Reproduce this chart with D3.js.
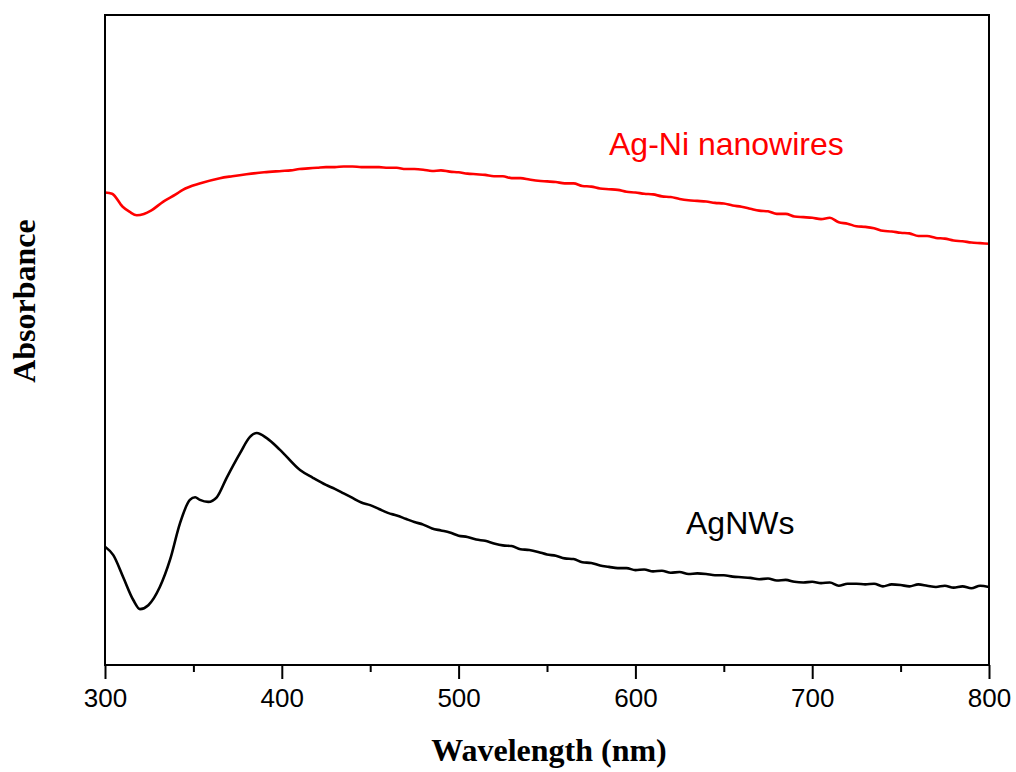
<!DOCTYPE html>
<html>
<head>
<meta charset="utf-8">
<script src="https://cdn.jsdelivr.net/npm/d3@7"></script>
<style>
  html, body { margin: 0; padding: 0; background: #fff; }
  svg { display: block; }
</style>
</head>
<body>
<script>
// ---- Data ----
const agnwsWavelength = [300, 304.7, 310.3, 316, 319.8, 324.5, 331, 336.8, 342.4, 348, 351, 353.7, 358.4, 363.2, 368.8, 376.4, 382, 385.8, 391.5, 399, 410.3, 417.6, 425,
  430, 435, 440, 445, 450, 455, 460, 465, 470, 475, 480, 485, 490, 495, 500, 505, 510, 515, 520, 525, 530, 535, 540, 545, 550, 555, 560, 565, 570, 575, 580, 585, 590, 595,
  600, 605, 610, 615, 620, 625, 630, 635, 640, 645, 650, 655, 660, 665, 670, 675, 680, 685, 690, 695, 700, 705, 710, 715, 720, 725, 730, 735, 740, 745, 750, 755, 760, 765, 770, 775, 780, 785, 790, 795, 800];
const agnwsAbs = [0.182, 0.169, 0.135, 0.100, 0.086, 0.092, 0.120, 0.162, 0.218, 0.254, 0.258, 0.254, 0.251, 0.258, 0.288, 0.326, 0.351, 0.357, 0.349, 0.331, 0.300, 0.288, 0.277,
  0.271, 0.264, 0.257, 0.250, 0.246, 0.240, 0.234, 0.230, 0.225, 0.220, 0.216, 0.210, 0.207, 0.204, 0.199, 0.197, 0.193, 0.191, 0.187, 0.184, 0.183, 0.178, 0.177, 0.174, 0.170, 0.168, 0.164, 0.163, 0.158, 0.157, 0.153, 0.151, 0.149, 0.149,
  0.146, 0.147, 0.144, 0.145, 0.142, 0.143, 0.140, 0.141, 0.140, 0.138, 0.138, 0.136, 0.135, 0.134, 0.132, 0.133, 0.130, 0.131, 0.128, 0.127, 0.128, 0.126, 0.127, 0.122, 0.125, 0.125, 0.124, 0.125, 0.121, 0.124, 0.123, 0.121, 0.124, 0.122, 0.120, 0.122, 0.119, 0.121, 0.118, 0.122, 0.120];

const agniWavelength = [300, 304, 310, 314, 318, 322, 326, 333, 340, 344, 354, 365, 372, 380, 390,
  400, 405, 410, 415, 420, 425, 430, 435, 440, 445, 450, 455, 460, 465, 470, 475, 480, 485, 490, 495, 500, 505, 510, 515, 520, 525, 530, 535, 540, 545, 550, 555, 560, 565, 570, 575, 580, 585, 590, 595,
  600, 605, 610, 615, 620, 625, 630, 635, 640, 645, 650, 655, 660, 665, 670, 675, 680, 685, 690, 695, 700, 705, 710, 715, 720, 725, 730, 735, 740, 745, 750, 755, 760, 765, 770, 775, 780, 785, 790, 795, 800];
const agniAbs = [0.727, 0.725, 0.705, 0.697, 0.692, 0.694, 0.699, 0.713, 0.724, 0.731, 0.741, 0.749, 0.752, 0.755, 0.758,
  0.760, 0.761, 0.763, 0.764, 0.765, 0.766, 0.766, 0.767, 0.767, 0.766, 0.766, 0.766, 0.765, 0.765, 0.763, 0.763, 0.762, 0.760, 0.761, 0.759, 0.758, 0.756, 0.755, 0.754, 0.752, 0.752, 0.749, 0.749, 0.747, 0.745, 0.744, 0.743, 0.741, 0.741, 0.737, 0.736, 0.733, 0.732, 0.731, 0.728,
  0.727, 0.725, 0.724, 0.721, 0.720, 0.717, 0.715, 0.714, 0.713, 0.711, 0.710, 0.707, 0.705, 0.702, 0.699, 0.698, 0.694, 0.694, 0.690, 0.689, 0.688, 0.686, 0.688, 0.681, 0.679, 0.675, 0.674, 0.672, 0.668, 0.667, 0.665, 0.664, 0.660, 0.660, 0.657, 0.656, 0.653, 0.652, 0.650, 0.649, 0.648];

const majorTicks = [300, 400, 500, 600, 700, 800];
const minorTicks = [350, 450, 550, 650, 750];
const xTitle = "Wavelength (nm)";
const yTitle = "Absorbance";
const seriesLabels = ["Ag-Ni nanowires", "AgNWs"];

// ---- Layout ----
const W = 1016, H = 772;
const L = 105, R = 989, T = 15, B = 665;

const svg = d3.select("body").append("svg").attr("width", W).attr("height", H);

const x = d3.scaleLinear().domain([300, 800]).range([L, R]);
const y = d3.scaleLinear().domain([0, 1]).range([B, T]);

svg.append("defs").append("clipPath").attr("id", "clip")
  .append("rect").attr("x", L).attr("y", T).attr("width", R - L).attr("height", B - T);

const line = d3.line().x(d => x(d[0])).y(d => y(d[1])).curve(d3.curveMonotoneX);

const g = svg.append("g").attr("clip-path", "url(#clip)");
g.append("path")
  .datum(agniWavelength.map((w, i) => [w, agniAbs[i]]))
  .attr("d", line).attr("fill", "none").attr("stroke", "#ff0000").attr("stroke-width", 2.6).attr("stroke-linejoin", "round");
g.append("path")
  .datum(agnwsWavelength.map((w, i) => [w, agnwsAbs[i]]))
  .attr("d", line).attr("fill", "none").attr("stroke", "#000").attr("stroke-width", 2.6).attr("stroke-linejoin", "round");

// Minor ticks
svg.append("g").attr("transform", `translate(0,${B})`)
  .call(d3.axisBottom(x).tickValues(minorTicks).tickSize(7).tickSizeOuter(0).tickFormat(""))
  .call(s => s.select(".domain").remove())
  .call(s => s.selectAll("line").attr("stroke", "#000").attr("stroke-width", 2));

// Major ticks + labels
const xa = svg.append("g").attr("transform", `translate(0,${B})`)
  .call(d3.axisBottom(x).tickValues(majorTicks).tickSize(14).tickSizeOuter(0).tickPadding(10).tickFormat(d3.format("d")));
xa.select(".domain").remove();
xa.selectAll("line").attr("stroke", "#000").attr("stroke-width", 2);
xa.selectAll("text").attr("font-family", "Liberation Sans, Arial, sans-serif").attr("font-size", 26).attr("fill", "#000");

// Frame
svg.append("rect").attr("x", L).attr("y", T).attr("width", R - L).attr("height", B - T)
  .attr("fill", "none").attr("stroke", "#000").attr("stroke-width", 2);

// Axis titles
svg.append("text").attr("x", (L + R) / 2 + 2).attr("y", 761)
  .attr("text-anchor", "middle").attr("font-family", "Liberation Serif, Times New Roman, serif")
  .attr("font-weight", "bold").attr("font-size", 32).text(xTitle);
svg.append("text").attr("transform", `translate(35,301) rotate(-90)`)
  .attr("text-anchor", "middle").attr("font-family", "Liberation Serif, Times New Roman, serif")
  .attr("font-weight", "bold").attr("font-size", 32).text(yTitle);

// Series labels
svg.append("text").attr("x", 609).attr("y", 155).attr("fill", "#ff0000")
  .attr("font-family", "Liberation Sans, Arial, sans-serif").attr("font-size", 32).text(seriesLabels[0]);
svg.append("text").attr("x", 686).attr("y", 534).attr("fill", "#000")
  .attr("font-family", "Liberation Sans, Arial, sans-serif").attr("font-size", 32).text(seriesLabels[1]);
</script>
</body>
</html>
